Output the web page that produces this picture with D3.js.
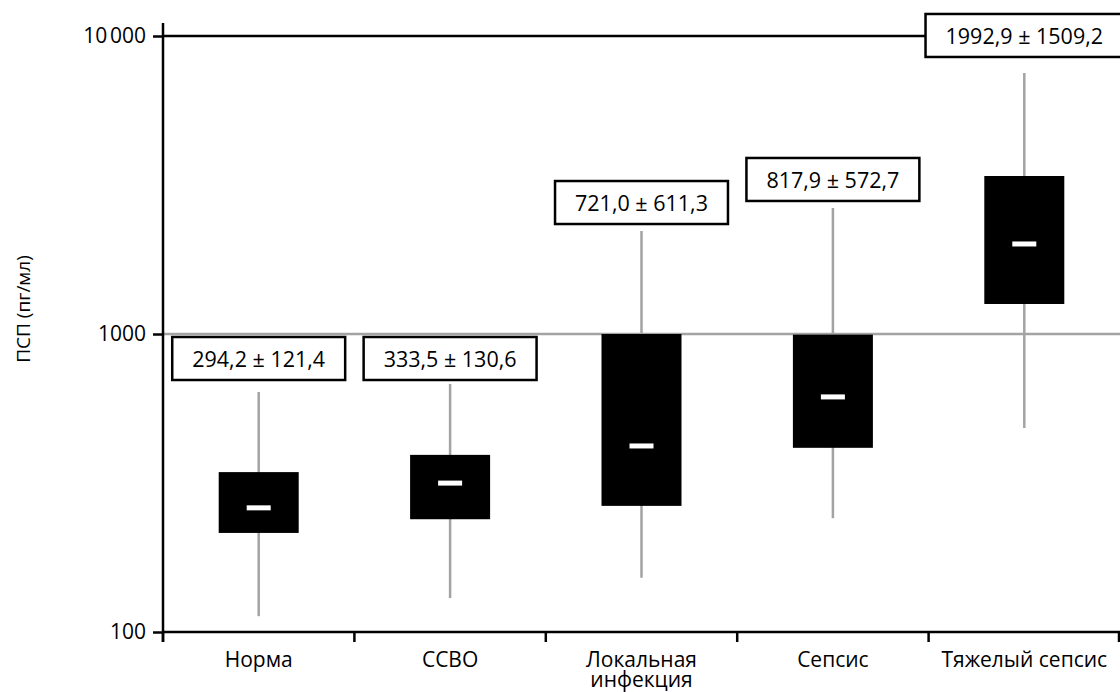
<!DOCTYPE html>
<html lang="ru">
<head>
<meta charset="utf-8">
<title>ПСП (пг/мл)</title>
<script src="https://cdn.jsdelivr.net/npm/d3@7/dist/d3.min.js"></script>
<style>
  html, body { margin: 0; padding: 0; background: #fff; }
  svg { display: block; }
  text { font-family: "Open Sans", "Noto Sans", sans-serif; fill: #000; }
</style>
</head>
<body>
<svg id="chart" width="1120" height="692"></svg>
<script>
// Groups of patients
const categories = ["Норма", "ССВО", "Локальная\nинфекция", "Сепсис", "Тяжелый сепсис"];

// Mean ± SD shown in the annotation boxes
const means = [294.2, 333.5, 721.0, 817.9, 1992.9];
const sds   = [121.4, 130.6, 611.3, 572.7, 1509.2];

// Box-plot statistics, pg/ml
const whiskerLow  = [113, 130, 152, 241, 484];
const q1          = [215, 239, 265, 415, 1261];
const medians     = [261, 316, 421, 615, 2005];
const q3          = [344, 393, 1000, 995, 3390];
const whiskerHigh = [639, 680, 2216, 2648, 7515];

// Y axis ticks
const yTickValues = [100, 1000, 10000];
const yTickLabels = ["100", "1000", "10\u202F000"];

const svg = d3.select("#chart");
const plotLeft = 163, plotRight = 1120, plotTop = 36, plotBottom = 632;
const GRAY = "#a3a3a3";
const FS = 21;

const x = d3.scaleBand().domain(categories).range([plotLeft, plotRight]).padding(0);
const y = d3.scaleLog().domain([100, 10000]).range([plotBottom, plotTop]);

const fmt = v => d3.format(".1f")(v).replace(".", ",");

// Reference lines at 1000 and 10 000
svg.append("line")
  .attr("x1", plotLeft).attr("x2", plotRight)
  .attr("y1", y(1000)).attr("y2", y(1000))
  .attr("stroke", GRAY).attr("stroke-width", 2.5);
svg.append("line")
  .attr("x1", plotLeft).attr("x2", plotRight)
  .attr("y1", y(10000)).attr("y2", y(10000))
  .attr("stroke", "#000").attr("stroke-width", 2.5);

const rows = categories.map((c, i) => ({
  c, i, lo: whiskerLow[i], q1: q1[i], med: medians[i], q3: q3[i], hi: whiskerHigh[i],
  mean: means[i], sd: sds[i]
}));

const cx = d => x(d.c) + x.bandwidth() / 2;
const boxW = 80;

const g = svg.append("g");

// Whiskers
g.selectAll(".whisker").data(rows).join("line")
  .attr("class", "whisker")
  .attr("x1", cx).attr("x2", cx)
  .attr("y1", d => y(d.lo)).attr("y2", d => y(d.hi))
  .attr("stroke", GRAY).attr("stroke-width", 2.5);

// Interquartile boxes
g.selectAll(".box").data(rows).join("rect")
  .attr("class", "box")
  .attr("x", d => cx(d) - boxW / 2)
  .attr("width", boxW)
  .attr("y", d => y(d.q3))
  .attr("height", d => y(d.q1) - y(d.q3))
  .attr("fill", "#000");

// Median markers
g.selectAll(".median").data(rows).join("rect")
  .attr("class", "median")
  .attr("x", d => cx(d) - 12)
  .attr("width", 24)
  .attr("y", d => y(d.med) - 2.5)
  .attr("height", 5)
  .attr("fill", "#fff");

// Annotation boxes: mean ± SD
const boxH = 43, pad = 20;
const labelBottom = (d) => {
  if (d.i < 2) return y(1000) + 3 + boxH;          // row just under the 1000 line
  const gap = d.i === 4 ? 16 : 7;
  return y(d.hi) - gap;
};

const ann = svg.append("g").selectAll("g").data(rows).join("g");
ann.each(function(d) {
  const gg = d3.select(this);
  const rect = gg.append("rect");
  const t = gg.append("text")
    .attr("x", cx(d))
    .attr("y", labelBottom(d) - boxH / 2)
    .attr("text-anchor", "middle")
    .attr("dominant-baseline", "central")
    .attr("font-size", FS + 0.5)
    .text(`${fmt(d.mean)} ± ${fmt(d.sd)}`);
  const w = t.node().getComputedTextLength() + pad * 2;
  rect.attr("x", cx(d) - w / 2)
    .attr("y", labelBottom(d) - boxH)
    .attr("width", w)
    .attr("height", boxH)
    .attr("fill", "#fff")
    .attr("stroke", "#000")
    .attr("stroke-width", 2.5);
  t.raise();
});

// Y axis
const yAxis = d3.axisLeft(y)
  .tickValues(yTickValues)
  .tickFormat((v, i) => yTickLabels[i])
  .tickSize(10)
  .tickPadding(7);
const ya = svg.append("g").attr("transform", `translate(${plotLeft},0)`).call(yAxis);
ya.select(".domain").remove();
ya.append("line")
  .attr("x1", 0).attr("x2", 0)
  .attr("y1", plotTop - 13).attr("y2", plotBottom + 10)
  .attr("stroke", "#000").attr("stroke-width", 2.5);
ya.selectAll(".tick line").attr("stroke", "#000").attr("stroke-width", 2.5);
ya.selectAll(".tick text").attr("font-size", FS).attr("fill", "#000")
  .attr("font-family", "\"Open Sans\", sans-serif");

// X axis: line with ticks at band boundaries
const xa = svg.append("g");
xa.append("line")
  .attr("x1", plotLeft).attr("x2", plotRight)
  .attr("y1", plotBottom).attr("y2", plotBottom)
  .attr("stroke", "#000").attr("stroke-width", 2.5);
const bounds = categories.map(c => x(c)).concat([plotRight - 1]);
xa.selectAll(".xt").data(bounds).join("line")
  .attr("class", "xt")
  .attr("x1", d => d).attr("x2", d => d)
  .attr("y1", plotBottom).attr("y2", plotBottom + 10)
  .attr("stroke", "#000").attr("stroke-width", 2.5);

// Category labels (multi-line where needed)
const xl = xa.selectAll(".xl").data(rows).join("text")
  .attr("class", "xl")
  .attr("text-anchor", "middle")
  .attr("font-size", FS)
  .attr("x", cx)
  .attr("y", plotBottom + 35);
xl.each(function(d) {
  const lines = d.c.split("\n");
  d3.select(this).selectAll("tspan").data(lines).join("tspan")
    .attr("x", cx(d))
    .attr("dy", (l, k) => k === 0 ? 0 : 20)
    .text(l => l);
});

// Y axis title
svg.append("text")
  .attr("transform", `translate(30,309) rotate(-90)`)
  .attr("text-anchor", "middle")
  .attr("font-size", 19)
  .text("ПСП (пг/мл)");
</script>
</body>
</html>
